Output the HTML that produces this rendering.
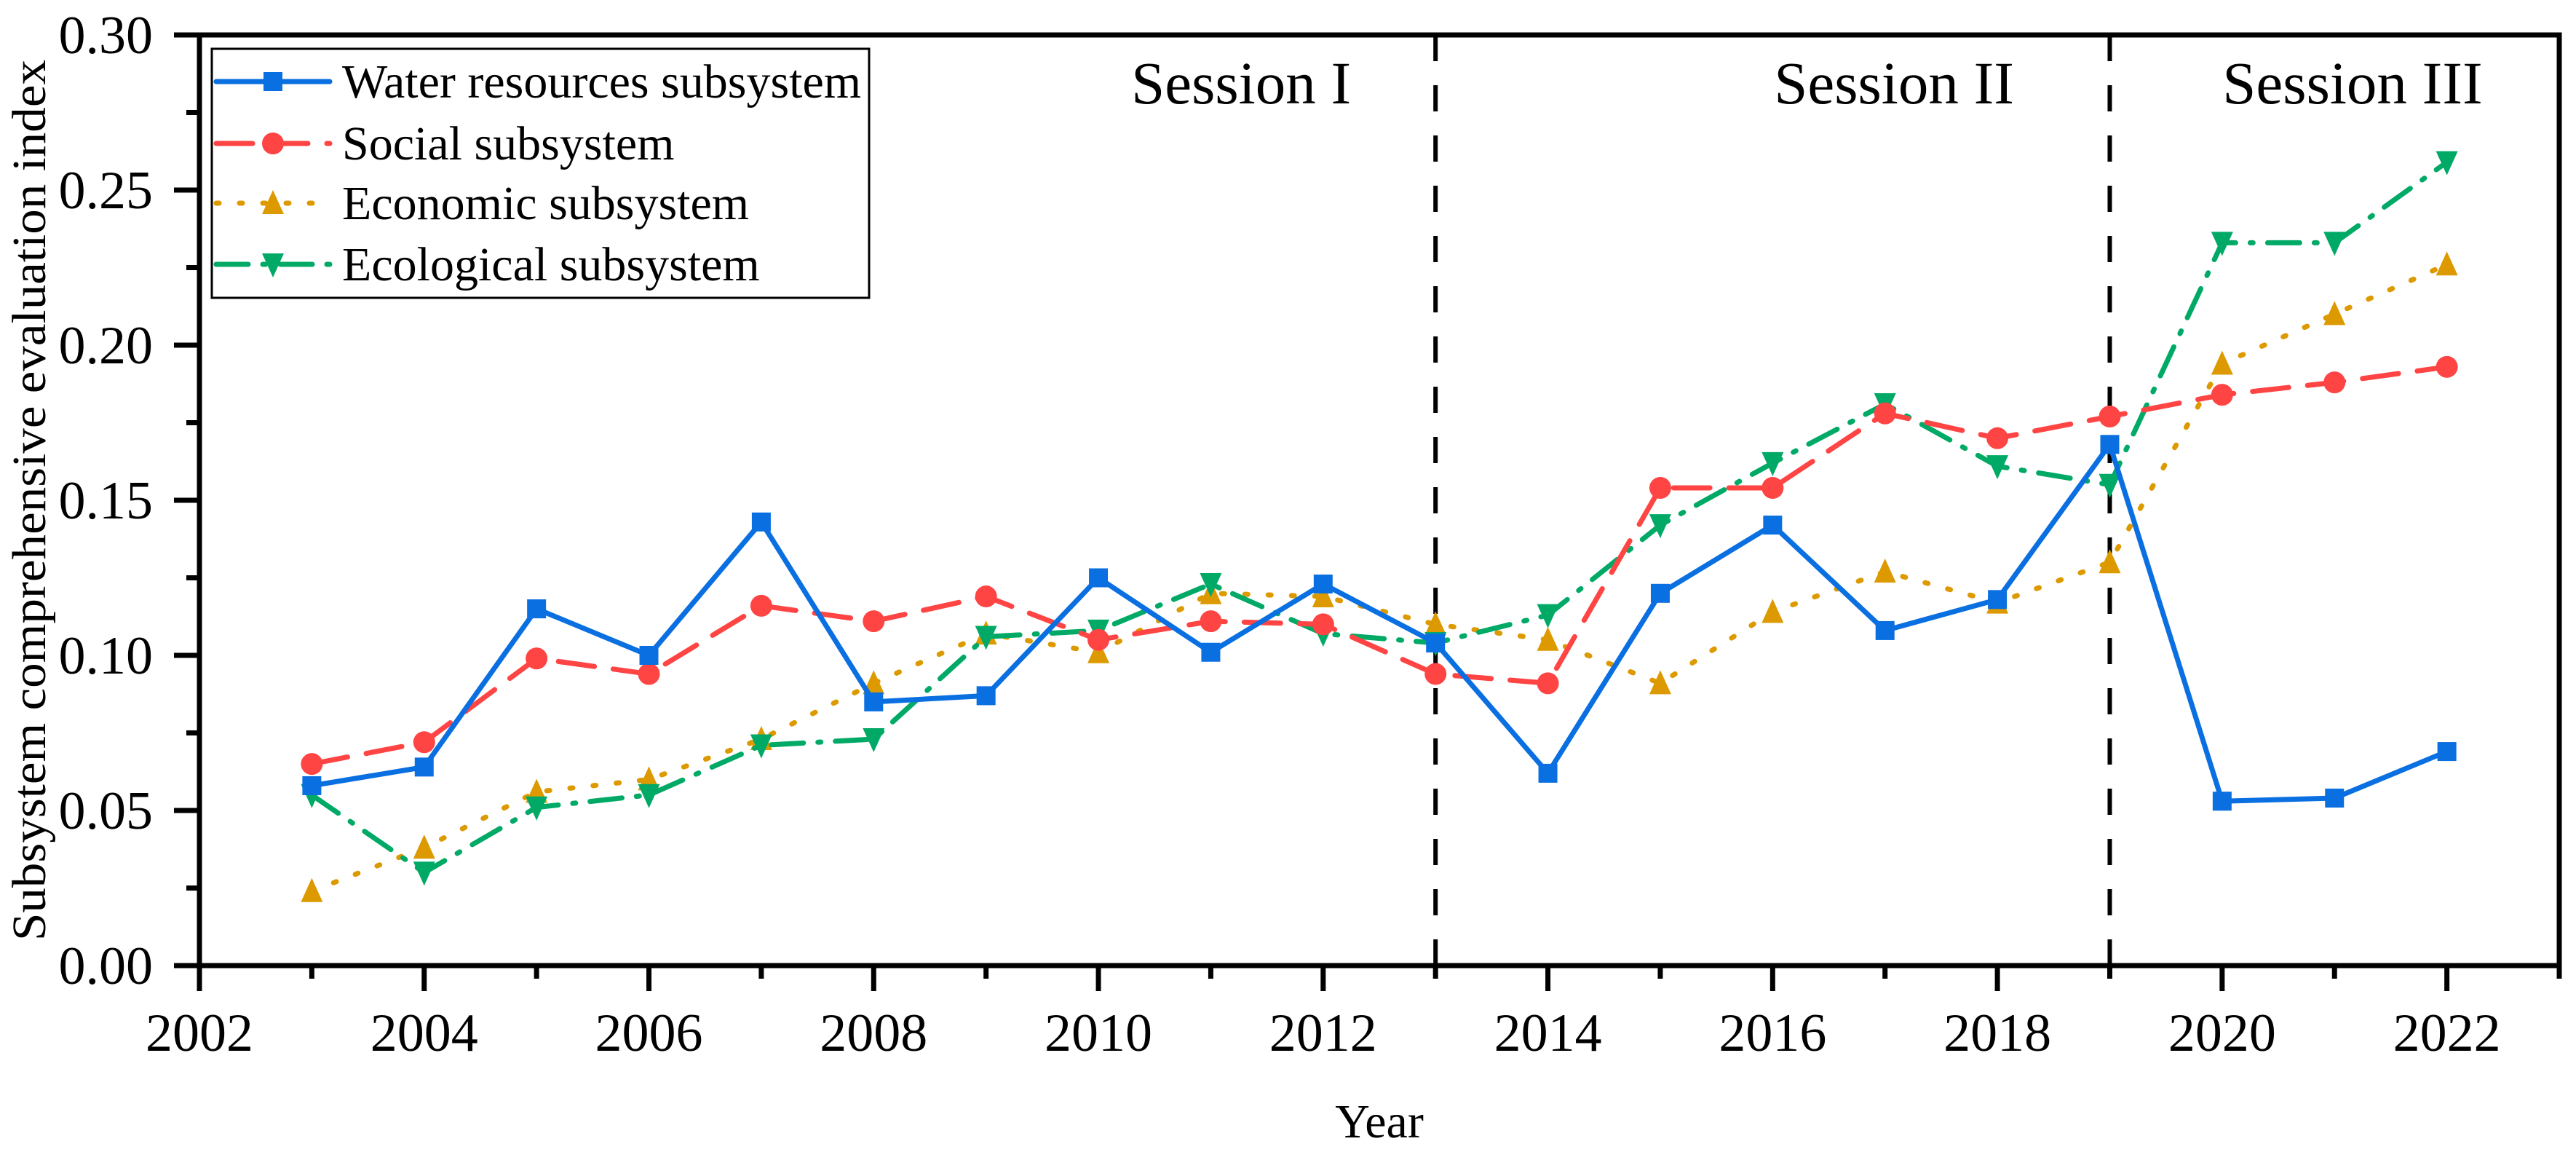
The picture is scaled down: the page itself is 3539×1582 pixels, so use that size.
<!DOCTYPE html>
<html><head><meta charset="utf-8"><style>
html,body{margin:0;padding:0;background:#fff}
svg{display:block;font-family:"Liberation Serif","Times New Roman",serif}
</style></head><body>
<svg id="chart" width="3539" height="1582" viewBox="0 0 3539 1582" xmlns="http://www.w3.org/2000/svg">
<g id="plot"></g>
</svg>
<script>
const years = [2003,2004,2005,2006,2007,2008,2009,2010,2011,2012,2013,2014,2015,2016,2017,2018,2019,2020,2021,2022];
const waterValues = [0.058,0.064,0.115,0.100,0.143,0.085,0.087,0.125,0.101,0.123,0.104,0.062,0.120,0.142,0.108,0.118,0.168,0.053,0.054,0.069];
const socialValues = [0.065,0.072,0.099,0.094,0.116,0.111,0.119,0.105,0.111,0.110,0.094,0.091,0.154,0.154,0.178,0.170,0.177,0.184,0.188,0.193];
const economicValues = [0.024,0.038,0.056,0.060,0.073,0.091,0.107,0.101,0.120,0.119,0.110,0.105,0.091,0.114,0.127,0.117,0.130,0.194,0.210,0.226];
const ecologicalValues = [0.055,0.030,0.051,0.055,0.071,0.073,0.106,0.108,0.123,0.107,0.104,0.113,0.142,0.162,0.181,0.161,0.155,0.233,0.233,0.259];
const xTickLabels = [2002,2004,2006,2008,2010,2012,2014,2016,2018,2020,2022];
const yTickLabels = [0.00,0.05,0.10,0.15,0.20,0.25,0.30];
const sessionBreaks = [2013,2019];
const sessionLabels = ["Session I","Session II","Session III"];
const sessionLabelYears = [2011.27,2017.08,2021.16];

const NS="http://www.w3.org/2000/svg";
const L=274,R=3516,T=48,B=1326;
const X0=2002,X1=2023,Y0=0,Y1=0.30;
const sx=v=>L+(v-X0)/(X1-X0)*(R-L);
const sy=v=>B-(v-Y0)/(Y1-Y0)*(B-T);
const g=document.getElementById('plot');
function mk(tag,attrs,parent){const e=document.createElementNS(NS,tag);for(const k in attrs)e.setAttribute(k,attrs[k]);(parent||g).appendChild(e);return e;}

for(let y=0;y<=0.3001;y+=0.025){
  const major=Math.abs(Math.round(y/0.05)*0.05-y)<1e-6;
  const t=mk('line',{x1:L-(major?35:18),x2:L,y1:sy(y),y2:sy(y),stroke:'#000','stroke-width':7});
  
  
}
yTickLabels.forEach(v=>{
  const t=mk('text',{x:210,y:sy(v)+25,'text-anchor':'end','font-size':74});
  t.textContent=v.toFixed(2);
  
  
});
for(let x=X0;x<=X1;x++){
  const major=(x%2===0);
  const t=mk('line',{x1:sx(x),x2:sx(x),y1:B,y2:B+(major?35:18),stroke:'#000','stroke-width':7});
  
  
}
xTickLabels.forEach(v=>{
  const t=mk('text',{x:sx(v),y:1443,'text-anchor':'middle','font-size':74});
  t.textContent=v;
  
  
});

sessionBreaks.forEach(v=>{
  const d=mk('line',{x1:sx(v),x2:sx(v),y1:T,y2:B+18,stroke:'#000','stroke-width':6,'stroke-dasharray':'36 33'});
  
  
});
sessionLabels.forEach((s,i)=>{
  const t=mk('text',{x:sx(sessionLabelYears[i]),y:142,'text-anchor':'middle','font-size':83});
  t.textContent=s;
  
  
});

const series=[
 {name:'Water resources subsystem',vals:waterValues,color:'#0a6fe0',dash:'',marker:'square',key:'water'},
 {name:'Social subsystem',vals:socialValues,color:'#ff4444',dash:'50 26',marker:'circle',key:'social'},
 {name:'Economic subsystem',vals:economicValues,color:'#dd9a00',dash:'4 28',marker:'tri-up',key:'economic'},
 {name:'Ecological subsystem',vals:ecologicalValues,color:'#00aa66',dash:'44 20 4 20',marker:'tri-down',key:'ecological'}
];
function marker(type,x,y,color,parent){
  let e;
  if(type==='square') e=mk('rect',{x:x-13,y:y-13,width:26,height:26,fill:color},parent);
  else if(type==='circle') e=mk('circle',{cx:x,cy:y,r:15,fill:color},parent);
  else if(type==='tri-up') e=mk('polygon',{points:`${x},${y-18} ${x-15},${y+15} ${x+15},${y+15}`,fill:color},parent);
  else e=mk('polygon',{points:`${x},${y+18} ${x-15},${y-15} ${x+15},${y-15}`,fill:color},parent);
  return e;
}
[2,3,1,0].forEach(i=>{
  const s=series[i];
  const pts=years.map((yr,j)=>sx(yr)+','+sy(s.vals[j])).join(' ');
  const line=mk('polyline',{points:pts,fill:'none',stroke:s.color,'stroke-width':7,'stroke-dasharray':s.dash,'stroke-linecap':'round','stroke-linejoin':'round'});
  
  
  years.forEach((yr,j)=>{
    const m=marker(s.marker,sx(yr),sy(s.vals[j]),s.color);
    
    
  });
});

const frame=mk('rect',{x:L,y:T,width:R-L,height:B-T,fill:'none',stroke:'#000','stroke-width':7});


const rt=mk('line',{x1:R,x2:R,y1:B,y2:B+18,stroke:'#000','stroke-width':7});



const lg=mk('g',{});


const lb=mk('rect',{x:291,y:67,width:903,height:342,fill:'#fff',stroke:'#000','stroke-width':3},lg);


const rowsY=[112,197,279,363];
series.forEach((s,i)=>{
  const e=mk('g',{},lg);
  
  
  const y=rowsY[i];
  const l=mk('line',{x1:297,x2:453,y1:y,y2:y,stroke:s.color,'stroke-width':7,'stroke-dasharray':s.dash,'stroke-linecap':'round'},e);
  
  
  const m=marker(s.marker,375,y,s.color,e);
  
  
  const t=mk('text',{x:470,y:y+22,'font-size':66},e);
  t.textContent=s.name;
  
  
});

const xt=mk('text',{x:(L+R)/2,y:1562,'text-anchor':'middle','font-size':66});
xt.textContent='Year';


const yt=mk('text',{x:0,y:0,'text-anchor':'middle','font-size':66,transform:`translate(62,${(T+B)/2}) rotate(-90)`,textLength:1210,lengthAdjust:'spacingAndGlyphs'});
yt.textContent='Subsystem comprehensive evaluation index';


</script>
</body></html>
